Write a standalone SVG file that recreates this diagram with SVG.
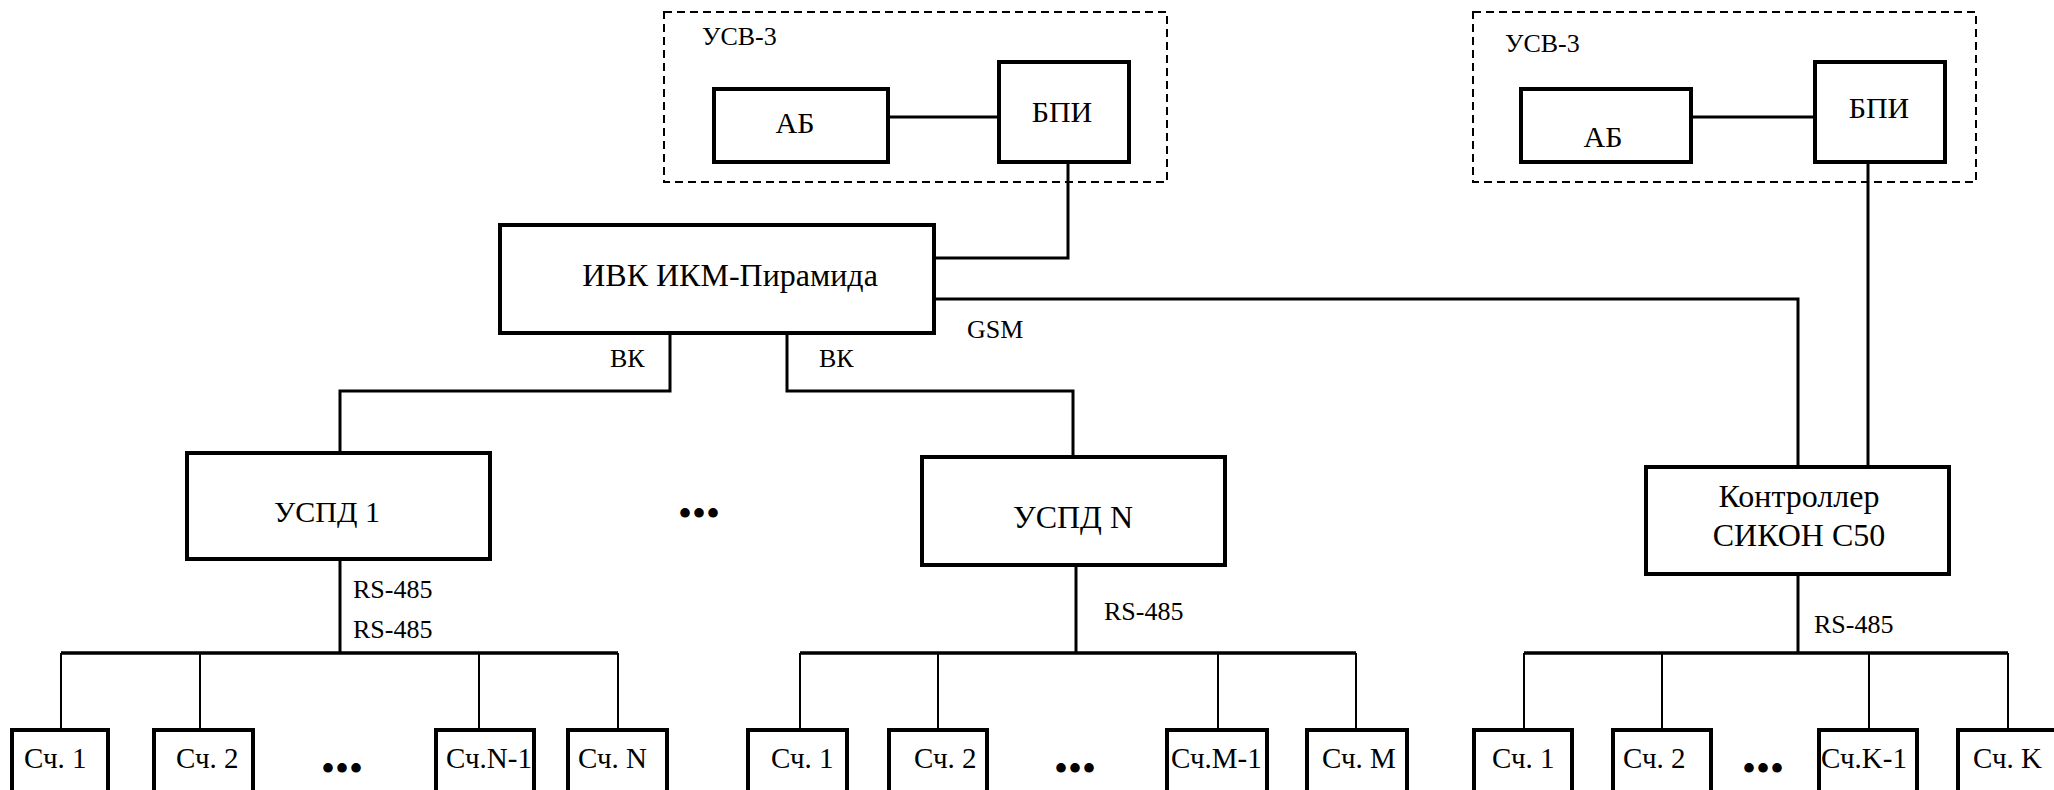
<svg xmlns="http://www.w3.org/2000/svg" width="2054" height="790" viewBox="0 0 2054 790">
<style>
.bg{fill:#fff}
.box{fill:#fff;stroke:#000;stroke-width:4}
.dash{fill:none;stroke:#000;stroke-width:2;stroke-dasharray:8,5}
.ln{fill:none;stroke:#000;stroke-width:3}
.thin{fill:none;stroke:#000;stroke-width:2}
.bus{fill:none;stroke:#000;stroke-width:3.5}
.t30{font-size:30px;text-anchor:middle}
.t32{font-size:32px;text-anchor:middle}
.lbl{font-size:26px}
.m{font-size:29px}
.dots{font-size:40px;text-anchor:middle}
</style>
<rect class="bg" x="0" y="0" width="2054" height="790"/>
<g font-family="Liberation Serif, Times New Roman, DejaVu Serif, serif" fill="#000">
<g id="connectors">
  <line class="ln" x1="888" y1="117" x2="999" y2="117"/>
  <polyline class="ln" points="1068,162 1068,258 934,258"/>
  <line class="ln" x1="1691" y1="117" x2="1815" y2="117"/>
  <polyline class="ln" points="934,299 1798,299 1798,467"/>
  <line class="ln" x1="1868" y1="162" x2="1868" y2="467"/>
  <polyline class="ln" points="670,333 670,391 340,391 340,453"/>
  <polyline class="ln" points="787,333 787,391 1073,391 1073,457"/>
  <line class="ln" x1="340" y1="559" x2="340" y2="653"/>
  <line class="bus" x1="61" y1="653" x2="618" y2="653"/>
  <line class="thin" x1="61" y1="653" x2="61" y2="730"/>
  <line class="thin" x1="200" y1="653" x2="200" y2="730"/>
  <line class="thin" x1="479" y1="653" x2="479" y2="730"/>
  <line class="thin" x1="618" y1="653" x2="618" y2="730"/>
  <line class="ln" x1="1076" y1="565" x2="1076" y2="653"/>
  <line class="bus" x1="800" y1="653" x2="1356" y2="653"/>
  <line class="thin" x1="800" y1="653" x2="800" y2="730"/>
  <line class="thin" x1="938" y1="653" x2="938" y2="730"/>
  <line class="thin" x1="1218" y1="653" x2="1218" y2="730"/>
  <line class="thin" x1="1356" y1="653" x2="1356" y2="730"/>
  <line class="ln" x1="1798" y1="574" x2="1798" y2="653"/>
  <line class="bus" x1="1524" y1="653" x2="2008" y2="653"/>
  <line class="thin" x1="1524" y1="653" x2="1524" y2="730"/>
  <line class="thin" x1="1662" y1="653" x2="1662" y2="730"/>
  <line class="thin" x1="1869" y1="653" x2="1869" y2="730"/>
  <line class="thin" x1="2008" y1="653" x2="2008" y2="730"/>
  <text class="lbl" x="610" y="367">ВК</text>
  <text class="lbl" x="819" y="367">ВК</text>
  <text class="lbl" x="967" y="338">GSM</text>
  <text class="lbl" x="353" y="598">RS-485</text>
  <text class="lbl" x="353" y="638">RS-485</text>
  <text class="lbl" x="1104" y="620">RS-485</text>
  <text class="lbl" x="1814" y="633">RS-485</text>
</g>

<g id="usv3-1">
  <rect class="dash" x="664" y="12" width="503" height="170"/>
  <text class="lbl" x="702" y="45">УСВ-3</text>
</g>
<g id="ab-1">
  <rect class="box" x="714" y="89" width="174" height="73"/>
  <text class="t30" x="795" y="133">АБ</text>
</g>
<g id="bpi-1">
  <rect class="box" x="999" y="62" width="130" height="100"/>
  <text class="t30" x="1062" y="122">БПИ</text>
</g>

<g id="usv3-2">
  <rect class="dash" x="1473" y="12" width="503" height="170"/>
  <text class="lbl" x="1505" y="52">УСВ-3</text>
</g>
<g id="ab-2">
  <rect class="box" x="1521" y="89" width="170" height="73"/>
  <text class="t30" x="1603" y="147">АБ</text>
</g>
<g id="bpi-2">
  <rect class="box" x="1815" y="62" width="130" height="100"/>
  <text class="t30" x="1879" y="118">БПИ</text>
</g>

<g id="ivk">
  <rect class="box" x="500" y="225" width="434" height="108"/>
  <text class="t32" x="730" y="286">ИВК ИКМ-Пирамида</text>
</g>

<g id="uspd-1">
  <rect class="box" x="187" y="453" width="303" height="106"/>
  <text class="t30" x="327" y="522">УСПД 1</text>
</g>
<g id="dots-mid">
  <text class="dots" x="699" y="527">•••</text>
</g>
<g id="uspd-n">
  <rect class="box" x="922" y="457" width="303" height="108"/>
  <text class="t32" x="1073" y="528">УСПД N</text>
</g>
<g id="controller">
  <rect class="box" x="1646" y="467" width="303" height="107"/>
  <text class="t32" x="1799" y="507">Контроллер</text>
  <text class="t32" x="1799" y="546">СИКОН С50</text>
</g>

<g id="m1-1"><rect class="box" x="12" y="730" width="96" height="100"/><text class="m" x="24" y="768">Сч. 1</text></g>
<g id="m1-2"><rect class="box" x="154" y="730" width="99" height="100"/><text class="m" x="176" y="768">Сч. 2</text></g>
<g id="m1-dots"><text class="dots" x="342" y="782">•••</text></g>
<g id="m1-n1"><rect class="box" x="436" y="730" width="98" height="100"/><text class="m" x="446" y="768">Сч.N-1</text></g>
<g id="m1-n"><rect class="box" x="568" y="730" width="99" height="100"/><text class="m" x="578" y="768">Сч. N</text></g>

<g id="m2-1"><rect class="box" x="748" y="730" width="99" height="100"/><text class="m" x="771" y="768">Сч. 1</text></g>
<g id="m2-2"><rect class="box" x="889" y="730" width="98" height="100"/><text class="m" x="914" y="768">Сч. 2</text></g>
<g id="m2-dots"><text class="dots" x="1075" y="782">•••</text></g>
<g id="m2-m1"><rect class="box" x="1167" y="730" width="100" height="100"/><text class="m" x="1171" y="768">Сч.М-1</text></g>
<g id="m2-m"><rect class="box" x="1307" y="730" width="100" height="100"/><text class="m" x="1322" y="768">Сч. М</text></g>

<g id="m3-1"><rect class="box" x="1474" y="730" width="98" height="100"/><text class="m" x="1492" y="768">Сч. 1</text></g>
<g id="m3-2"><rect class="box" x="1613" y="730" width="98" height="100"/><text class="m" x="1623" y="768">Сч. 2</text></g>
<g id="m3-dots"><text class="dots" x="1763" y="782">•••</text></g>
<g id="m3-k1"><rect class="box" x="1819" y="730" width="98" height="100"/><text class="m" x="1821" y="768">Сч.K-1</text></g>
<g id="m3-k"><rect class="box" x="1958" y="730" width="100" height="100"/><text class="m" x="1973" y="768">Сч. K</text></g>
</g>
</svg>
